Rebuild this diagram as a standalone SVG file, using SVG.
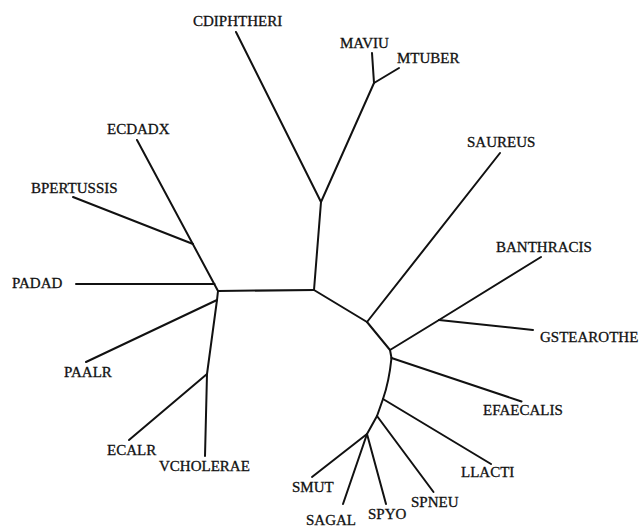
<svg xmlns="http://www.w3.org/2000/svg" width="642" height="527" viewBox="0 0 642 527">
<style>
.e{fill:none;stroke:#111;stroke-width:2;stroke-linecap:round;stroke-linejoin:round}
.t{font-family:"Liberation Serif","Times New Roman",serif;font-size:15px;fill:#111;stroke:#111;stroke-width:0.3}
</style>
<rect width="642" height="527" fill="#fff"/>
<g id="connectors">
<path class="e" d="M218,291 L314,290"/>
<path class="e" d="M314,290 L321,202"/>
<path class="e" d="M321,202 L236,32"/>
<path class="e" d="M321,202 L374,83"/>
<path class="e" d="M374,83 L372,53"/>
<path class="e" d="M374,83 L399,68"/>
<path class="e" d="M314,290 L367,322"/>
<path class="e" d="M367,322 L500,153"/>
<path class="e" d="M367,322 L390,350"/>
<path class="e" d="M390,350 L439,320"/>
<path class="e" d="M439,320 L541,257"/>
<path class="e" d="M439,320 L533,330"/>
<path class="e" d="M390,350 L391.5,358"/>
<path class="e" d="M391.5,358 L521.5,401.5"/>
<path class="e" d="M391.5,358 Q389,382 383,399"/>
<path class="e" d="M383,399 L491,464"/>
<path class="e" d="M383,399 L377,416"/>
<path class="e" d="M377,416 L433.5,492"/>
<path class="e" d="M377,416 L367,434"/>
<path class="e" d="M367,434 L312,477"/>
<path class="e" d="M367,434 L343,504"/>
<path class="e" d="M367,434 L386,504"/>
<path class="e" d="M218,291 L137,140"/>
<path class="e" d="M193,244 L73,197"/>
<path class="e" d="M76,284 L214.5,284"/>
<path class="e" d="M218,291 L217,300 L207,374 L205,456"/>
<path class="e" d="M217,300 L86,362"/>
<path class="e" d="M207,374 L129,440"/>
</g>
<g id="CDIPHTHERI"><text class="t" x="193" y="26">CDIPHTHERI</text></g>
<g id="MAVIU"><text class="t" x="340" y="48">MAVIU</text></g>
<g id="MTUBER"><text class="t" x="397" y="63">MTUBER</text></g>
<g id="SAUREUS"><text class="t" x="467" y="147">SAUREUS</text></g>
<g id="BANTHRACIS"><text class="t" x="496" y="252">BANTHRACIS</text></g>
<g id="GSTEAROTHE"><text class="t" x="540" y="342">GSTEAROTHE</text></g>
<g id="EFAECALIS"><text class="t" x="483" y="415">EFAECALIS</text></g>
<g id="LLACTI"><text class="t" x="461" y="477">LLACTI</text></g>
<g id="SPNEU"><text class="t" x="411" y="507">SPNEU</text></g>
<g id="SPYO"><text class="t" x="368" y="519">SPYO</text></g>
<g id="SAGAL"><text class="t" x="306" y="525">SAGAL</text></g>
<g id="SMUT"><text class="t" x="292" y="492">SMUT</text></g>
<g id="VCHOLERAE"><text class="t" x="159" y="471">VCHOLERAE</text></g>
<g id="ECALR"><text class="t" x="107" y="455">ECALR</text></g>
<g id="PAALR"><text class="t" x="64" y="377">PAALR</text></g>
<g id="PADAD"><text class="t" x="12" y="288">PADAD</text></g>
<g id="BPERTUSSIS"><text class="t" x="31" y="193">BPERTUSSIS</text></g>
<g id="ECDADX"><text class="t" x="107" y="134">ECDADX</text></g>
</svg>
